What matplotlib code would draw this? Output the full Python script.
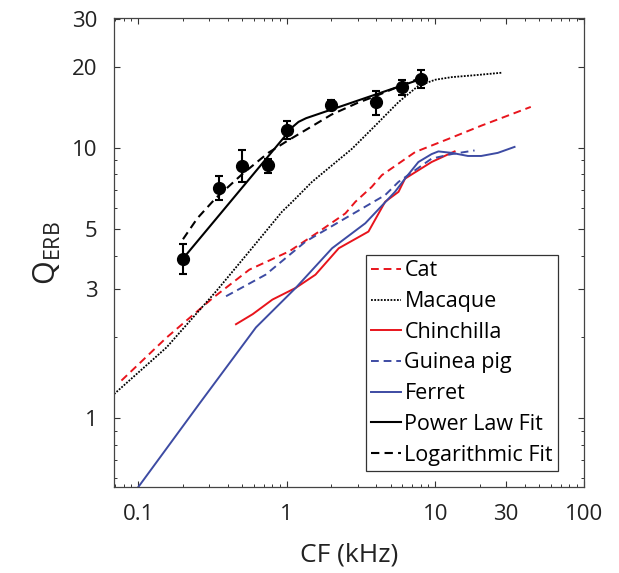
import numpy as np
import matplotlib
matplotlib.use("Agg")
import matplotlib.pyplot as plt
from matplotlib.ticker import FixedLocator, LogLocator, NullFormatter, FixedFormatter

plt.rcParams['font.family'] = ['Open Sans', 'DejaVu Sans']
plt.rcParams['mathtext.fontset'] = 'custom'
plt.rcParams['mathtext.rm'] = 'Open Sans'

# measured data (mean +- error)
cf_data = [0.2, 0.35, 0.5, 0.75, 1, 2, 4, 6, 8]
q_data = [3.88, 7.13, 8.6, 8.64, 11.7, 14.4, 14.8, 16.8, 18.0]
q_lo = [3.42, 6.44, 7.50, 8.11, 10.8, 13.8, 13.25, 15.7, 16.75]
q_hi = [4.41, 7.89, 9.81, 9.13, 12.6, 15.0, 16.2, 17.8, 19.4]

# fits
pow_cf = [0.2, 1.1, 1.2, 1.35, 8]
pow_q = [3.9, 12.0, 12.5, 12.9, 18.0]
log_cf = [0.2, 0.25, 0.33, 0.5, 0.75, 1, 1.5, 2, 3, 4, 6, 8]
log_q = [4.6, 5.5, 6.5, 8.0, 9.6, 10.6, 12.1, 13.3, 14.7, 15.6, 17.1, 18.2]

# species curves
cat_cf = [0.077, 0.155, 0.318, 0.56, 1.04, 1.65, 2.48, 2.9, 3.74, 4.37, 7.33, 12.2, 20.4, 44]
cat_q = [1.38, 1.99, 2.79, 3.55, 4.15, 4.91, 5.73, 6.33, 7.19, 7.94, 9.67, 10.8, 12.1, 14.2]
mac_cf = [0.0687, 0.155, 0.334, 0.56, 0.93, 1.09, 1.48, 2.02, 2.75, 3.94, 5.66, 7.7, 10.0, 12.9, 18.4, 28]
mac_q = [1.23, 1.83, 2.95, 4.15, 5.82, 6.33, 7.5, 8.64, 9.94, 12.1, 14.8, 17.0, 17.9, 18.3, 18.6, 19.0]
chin_cf = [0.455, 0.59, 0.8, 1.15, 1.56, 2.24, 3.55, 4.6, 5.66, 6.26, 9.45, 13.5]
chin_q = [2.23, 2.43, 2.75, 3.04, 3.40, 4.26, 4.91, 6.33, 6.89, 7.71, 8.88, 9.72]
gp_cf = [0.39, 0.72, 1.34, 2.48, 4.6, 5.66, 9.45, 12.9, 18.4]
gp_q = [2.83, 3.40, 4.51, 5.5, 6.70, 7.5, 9.14, 9.5, 9.8]
fer_cf = [0.1, 0.26, 0.62, 1.15, 2.02, 3.38, 5.36, 6.26, 7.7, 9.45, 10.5, 12.9, 16.6, 20.4, 26.4, 34.2]
fer_q = [0.557, 1.14, 2.17, 3.04, 4.26, 5.27, 6.89, 7.71, 8.88, 9.5, 9.72, 9.6, 9.35, 9.35, 9.6, 10.1]

red = '#e8141c'
blue = '#3d4ba3'

fig = plt.figure(figsize=(6.19, 5.73), dpi=100)
ax = fig.add_axes([0.184, 0.150, 0.759, 0.818])

ax.plot(cat_cf, cat_q, color=red, lw=1.4, ls=(0, (4, 2.5)), label='Cat')
ax.plot(mac_cf, mac_q, color='black', lw=1.3, ls=(0, (1, 0.8)), label='Macaque')
ax.plot(chin_cf, chin_q, color=red, lw=1.4, label='Chinchilla')
ax.plot(gp_cf, gp_q, color=blue, lw=1.4, ls=(0, (4, 2.5)), label='Guinea pig')
ax.plot(fer_cf, fer_q, color=blue, lw=1.4, label='Ferret')
ax.plot(pow_cf, pow_q, color='black', lw=1.5, label='Power Law Fit')
ax.plot(log_cf, log_q, color='black', lw=1.5, ls=(0, (4, 2.5)), label='Logarithmic Fit')

yerr = [np.array(q_data) - np.array(q_lo), np.array(q_hi) - np.array(q_data)]
ax.errorbar(cf_data, q_data, yerr=yerr, fmt='o', color='black', ms=8.5,
            elinewidth=1.5, capsize=3, capthick=1.5, zorder=5)

ax.set_xscale('log')
ax.set_yscale('log')
ax.set_xlim(0.0685, 100)
ax.set_ylim(0.557, 30.2)

xt = [0.1, 1, 10, 30, 100]
yt = [1, 3, 5, 10, 20, 30]
ax.xaxis.set_major_locator(FixedLocator(xt))
ax.xaxis.set_major_formatter(FixedFormatter(['0.1', '1', '10', '30', '100']))
ax.yaxis.set_major_locator(FixedLocator(yt))
ax.yaxis.set_major_formatter(FixedFormatter(['1', '3', '5', '10', '20', '30']))
ax.xaxis.set_minor_locator(LogLocator(subs=np.arange(2, 10)))
ax.yaxis.set_minor_locator(LogLocator(subs=np.arange(2, 10)))
ax.xaxis.set_minor_formatter(NullFormatter())
ax.yaxis.set_minor_formatter(NullFormatter())

ax.tick_params(which='both', direction='in', top=True, right=True, colors='#333333',
               labelcolor='#222222')
ax.tick_params(which='major', length=4, width=0.8, labelsize=16, pad=12)
ax.tick_params(which='minor', length=2.5, width=0.7)
for s in ax.spines.values():
    s.set_color('#444444')
    s.set_linewidth(0.9)

ax.set_xlabel('CF (kHz)', fontsize=19, color='#222222', labelpad=13)
ax.set_ylabel(r'Q$_{\mathrm{ERB}}$', fontsize=22, color='#222222', labelpad=6)

leg = ax.legend(loc='upper left', bbox_to_anchor=(0.536, 0.495), fontsize=15.5,
                handlelength=1.4, handletextpad=0.15, labelspacing=0.45,
                borderpad=0.25, borderaxespad=0, fancybox=False, framealpha=1)
leg.get_frame().set_edgecolor('#333333')
leg.get_frame().set_linewidth(0.9)

fig.savefig('out.png', dpi=100)
